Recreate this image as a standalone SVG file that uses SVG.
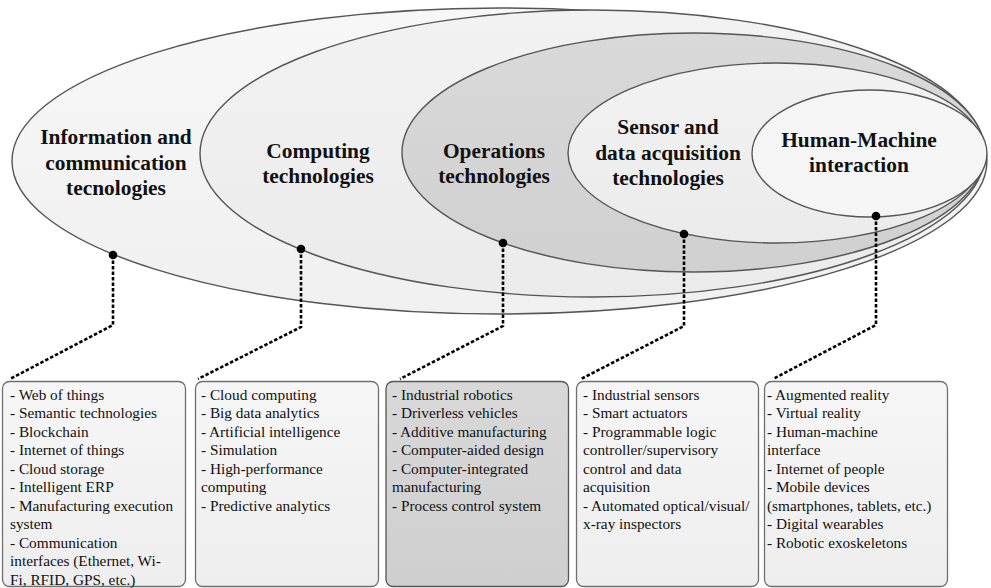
<svg xmlns="http://www.w3.org/2000/svg" width="991" height="588" viewBox="0 0 991 588">
  <defs>
    <linearGradient id="gLight" x1="0" y1="0" x2="0" y2="1">
      <stop offset="0" stop-color="#f7f7f7"/>
      <stop offset="1" stop-color="#f0f0f0"/>
    </linearGradient>
    <linearGradient id="gMid" x1="0" y1="0" x2="0" y2="1">
      <stop offset="0" stop-color="#f2f2f2"/>
      <stop offset="1" stop-color="#ebebeb"/>
    </linearGradient>
    <linearGradient id="gDark" x1="0" y1="0" x2="0" y2="1">
      <stop offset="0" stop-color="#d9d9d9"/>
      <stop offset="1" stop-color="#d0d0d0"/>
    </linearGradient>
    <linearGradient id="gBox" x1="0" y1="0" x2="0" y2="1">
      <stop offset="0" stop-color="#f6f6f6"/>
      <stop offset="1" stop-color="#eeeeee"/>
    </linearGradient>
    <linearGradient id="gBoxDark" x1="0" y1="0" x2="0" y2="1">
      <stop offset="0" stop-color="#d8d8d8"/>
      <stop offset="1" stop-color="#cfcfcf"/>
    </linearGradient>
  </defs>
  <style>
    .ring { stroke: #555; stroke-width: 1.4; }
    .title { font-family: "Liberation Serif", "Times New Roman", serif; font-weight: bold; font-size: 21.4px; fill: #111; text-anchor: middle; }
    .box { fill: url(#gBox); stroke: #6f6f6f; stroke-width: 1.3; }
    .box.dark { fill: url(#gBoxDark); stroke: #555; }
    .list { font-family: "Liberation Serif", "Times New Roman", serif; font-size: 15.3px; fill: #111; }
    .link { fill: none; stroke: #000; stroke-width: 2.6; stroke-dasharray: 3.5 2; }
    .dot { fill: #000; }
  </style>

  <rect width="991" height="588" fill="#ffffff"/>

  <!-- nested technology layers -->
  <g id="ict">
    <ellipse class="ring" cx="499.5" cy="161" rx="487.5" ry="153" fill="url(#gLight)"/>
    <text class="title" x="116" y="143.5">Information and</text>
    <text class="title" x="116" y="169.5">communication</text>
    <text class="title" x="116" y="195">tecnologies</text>
  </g>
  <g id="computing">
    <ellipse class="ring" cx="592.5" cy="153.5" rx="392.5" ry="143.5" fill="url(#gMid)"/>
    <text class="title" x="318" y="157.5">Computing</text>
    <text class="title" x="318" y="183">technologies</text>
  </g>
  <g id="operations">
    <ellipse class="ring" cx="693.5" cy="152.5" rx="291.5" ry="119.5" fill="url(#gDark)"/>
    <text class="title" x="494" y="157.5">Operations</text>
    <text class="title" x="494" y="183">technologies</text>
  </g>
  <g id="sensor">
    <ellipse class="ring" cx="776.5" cy="153" rx="208.5" ry="90" fill="url(#gMid)"/>
    <text class="title" x="668" y="134">Sensor and</text>
    <text class="title" x="668" y="159.5">data acquisition</text>
    <text class="title" x="668" y="185">technologies</text>
  </g>
  <g id="hmi">
    <ellipse class="ring" cx="869.5" cy="153.5" rx="117.5" ry="63.5" fill="#f5f5f5"/>
    <text class="title" x="859" y="147">Human-Machine</text>
    <text class="title" x="859" y="172">interaction</text>
  </g>

  <!-- connectors from each layer to its list -->
  <g id="connectors">
    <path class="link" d="M113 255 V325 L10 379"/>
    <path class="link" d="M301 249 V327 L198 379"/>
    <path class="link" d="M503 243 V326 L400 379"/>
    <path class="link" d="M684 234 V326 L581 379"/>
    <path class="link" d="M876 216 V325 L773 379"/>
    <circle class="dot" cx="113" cy="255" r="4.3"/>
    <circle class="dot" cx="301" cy="249" r="4.3"/>
    <circle class="dot" cx="503" cy="243" r="4.3"/>
    <circle class="dot" cx="684" cy="234" r="4.3"/>
    <circle class="dot" cx="876" cy="216" r="4.3"/>
  </g>

  <!-- lists -->
  <g id="list-ict">
    <rect class="box" x="2.5" y="381.5" width="183" height="205" rx="7"/>
    <text class="list" x="10">
      <tspan x="10" y="399.5">- Web of things</tspan>
      <tspan x="10" y="418">- Semantic technologies</tspan>
      <tspan x="10" y="436.5">- Blockchain</tspan>
      <tspan x="10" y="455">- Internet of things</tspan>
      <tspan x="10" y="473.5">- Cloud storage</tspan>
      <tspan x="10" y="492">- Intelligent ERP</tspan>
      <tspan x="10" y="510.5">- Manufacturing execution</tspan>
      <tspan x="10" y="529">system</tspan>
      <tspan x="10" y="547.5">- Communication</tspan>
      <tspan x="10" y="566">interfaces (Ethernet, Wi-</tspan>
      <tspan x="10" y="584.5">Fi, RFID, GPS, etc.)</tspan>
    </text>
  </g>
  <g id="list-computing">
    <rect class="box" x="195.5" y="381.5" width="183" height="205" rx="7"/>
    <text class="list">
      <tspan x="201" y="399.5">- Cloud computing</tspan>
      <tspan x="201" y="418">- Big data analytics</tspan>
      <tspan x="201" y="436.5">- Artificial intelligence</tspan>
      <tspan x="201" y="455">- Simulation</tspan>
      <tspan x="201" y="473.5">- High-performance</tspan>
      <tspan x="201" y="492">computing</tspan>
      <tspan x="201" y="510.5">- Predictive analytics</tspan>
    </text>
  </g>
  <g id="list-operations">
    <rect class="box dark" x="386" y="381.5" width="182.5" height="205" rx="7"/>
    <text class="list">
      <tspan x="392" y="399.5">- Industrial robotics</tspan>
      <tspan x="392" y="418">- Driverless vehicles</tspan>
      <tspan x="392" y="436.5">- Additive manufacturing</tspan>
      <tspan x="392" y="455">- Computer-aided design</tspan>
      <tspan x="392" y="473.5">- Computer-integrated</tspan>
      <tspan x="392" y="492">manufacturing</tspan>
      <tspan x="392" y="510.5">- Process control system</tspan>
    </text>
  </g>
  <g id="list-sensor">
    <rect class="box" x="576.5" y="381.5" width="182" height="205" rx="7"/>
    <text class="list">
      <tspan x="583" y="399.5">- Industrial sensors</tspan>
      <tspan x="583" y="418">- Smart actuators</tspan>
      <tspan x="583" y="436.5">- Programmable logic</tspan>
      <tspan x="583" y="455">controller/supervisory</tspan>
      <tspan x="583" y="473.5">control and data</tspan>
      <tspan x="583" y="492">acquisition</tspan>
      <tspan x="583" y="510.5">- Automated optical/visual/</tspan>
      <tspan x="583" y="529">x-ray inspectors</tspan>
    </text>
  </g>
  <g id="list-hmi">
    <rect class="box" x="764.5" y="381.5" width="183" height="205" rx="7"/>
    <text class="list">
      <tspan x="767" y="399.5">- Augmented reality</tspan>
      <tspan x="767" y="418">- Virtual reality</tspan>
      <tspan x="767" y="436.5">- Human-machine</tspan>
      <tspan x="767" y="455">interface</tspan>
      <tspan x="767" y="473.5">- Internet of people</tspan>
      <tspan x="767" y="492">- Mobile devices</tspan>
      <tspan x="767" y="510.5">(smartphones, tablets, etc.)</tspan>
      <tspan x="767" y="529">- Digital wearables</tspan>
      <tspan x="767" y="547.5">- Robotic exoskeletons</tspan>
    </text>
  </g>
</svg>
